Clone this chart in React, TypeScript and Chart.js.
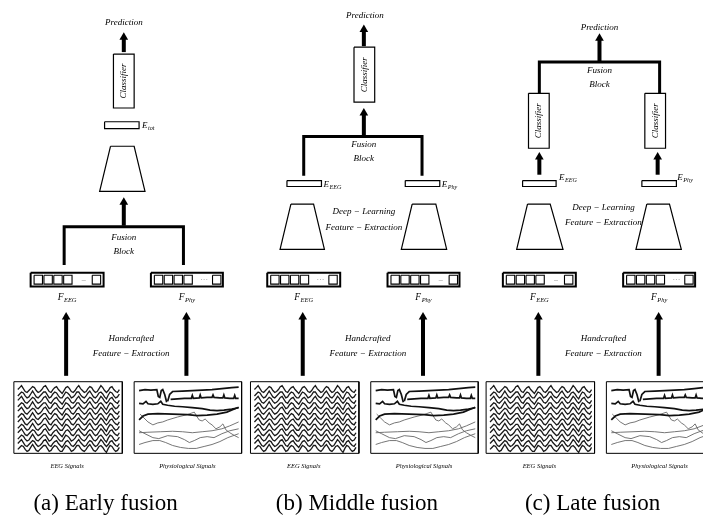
import React, { useEffect, useRef } from "react";
import { Chart, registerables } from "chart.js";
Chart.register(...registerables);

const W = 708;
const H = 527;

// ---------- panel captions ----------
const PANEL_OFFSETS = [0, 240, 479];
const PANEL_CAPTIONS = ["(a) Early fusion", "(b) Middle fusion", "(c) Late fusion"];
const CAPTION_X = [102, 357, 596];
const CAPTION_Y = 509;

// ---------- shared lower part (panel-relative) ----------
const SIGNAL_LABELS = ["EEG Signals", "Physiological Signals"];
const SIGNAL_LABEL_X = [63, 185];
const SIGNAL_BOXES = [
  [9, 384, 119, 457],
  [131, 384, 240, 457],
];
const FEATURE_LABELS = [["F", "EEG"], ["F", "Phy"]];
const FEATURE_VECTORS = [
  [26, 273, 100, 287],
  [148, 273, 221, 287],
];
const FEATURE_CELL_STARTS = [3.5, 13.5, 23.5, 33.5, 62.5];
const FEATURE_SEPARATORS = [["–", "···"], ["···", "–"], ["–", "···"]];
const LOWER_ARROW_X = [62, 184];
const LOWER_ARROW_FROM = 378;
const LOWER_ARROW_TIP = 313;
const HANDCRAFTED_TEXT = ["Handcrafted", "Feature − Extraction"];

// EEG traces (hand-read waveforms)
const EEG_WAVE_A = [0, -2, -4, -1, 2, 3, 1, -1, -3, -2, 1, 3, 2, 0, -3, -4, -1, 2, 3, 0, -2, -3, 0, 2, 4, 1, -2, -3, -1, 2, 3, 1, -2, -4, -1, 1, 3, 2, -1, -3, -2, 1, 3, 2, -1, -4, -2, 1, 3, 1, -2, -3, 0, 2, 3, 0];
const EEG_WAVE_B = [1, -1, -3, -2, 1, 3, 2, -1, -4, -1, 2, 3, 1, -1, -3, -3, 0, 3, 2, -1, -3, -2, 1, 3, 3, 0, -3, -2, 0, 3, 2, 0, -3, -3, 0, 2, 3, 1, -2, -4, -1, 2, 3, 1, -2, -3, -1, 2, 4, 0, -3, -2, 1, 3, 2, -1];
const EEG_CHANNEL_Y = [392, 397.5, 403, 408.5, 414, 419.5, 425, 430.5, 436, 441.5, 447, 452];
const EEG_X_RANGE = [13, 116];

// Physiological traces (hand-read)
const PHYS_TRACES: { pts: number[][]; dark: boolean }[] = [
  { dark: true, pts: [[136, 393], [142, 392], [148, 392.5], [154, 392], [155.5, 399], [157, 400], [158.5, 393], [160, 392], [162, 397], [164, 405]] },
  { dark: true, pts: [[165, 404], [167, 397], [170, 394], [180, 393.5], [190, 393], [200, 392.5], [210, 392], [220, 391], [230, 390], [237, 389.5]] },
  { dark: true, pts: [[168, 402], [175, 401.5], [182, 401], [189, 401], [190, 398], [191, 401], [197, 400.5], [198, 397.5], [199, 400.5], [205, 400], [210, 400], [211, 397.5], [212, 400], [218, 400.5], [221, 400.5], [222, 397.5], [223, 400.5], [228, 401], [232, 401], [233, 398], [234, 401], [237, 401]] },
  { dark: true, pts: [[136, 406], [140, 406.5], [143, 404], [145, 406.5], [150, 407], [155, 406.5], [158, 404], [160, 407], [165, 408], [172, 409], [180, 409.5], [190, 410.5], [200, 411.5], [208, 413], [215, 413.5], [222, 413], [230, 412], [237, 410.5]] },
  { dark: true, pts: [[136, 423], [140, 419], [145, 417], [155, 416.5], [170, 417], [185, 417.5], [195, 418.5], [205, 418], [215, 417], [225, 415], [232, 412], [237, 410]] },
  { dark: false, pts: [[137, 417], [141, 421], [145, 425], [150, 428], [155, 426], [160, 425], [165, 423], [175, 420], [185, 417.5], [192, 415], [195, 420], [197, 423], [200, 424], [203, 422], [207, 426], [210, 428], [214, 432], [218, 430], [221, 427], [224, 433], [228, 436], [233, 439], [237, 441]] },
  { dark: false, pts: [[136, 436], [145, 435.5], [158, 435], [170, 434.5], [180, 435], [190, 436], [200, 435], [210, 434], [220, 432], [228, 429], [237, 425]] },
  { dark: false, pts: [[136, 434], [142, 437], [150, 441], [156, 442], [165, 439], [175, 440], [182, 443], [187, 446], [192, 444], [198, 441], [205, 440], [212, 441], [220, 437], [228, 434], [237, 432]] },
  { dark: false, pts: [[136, 448], [142, 446], [150, 444], [157, 444], [163, 446], [170, 449], [178, 451], [186, 452], [194, 452], [202, 450], [210, 448], [218, 445], [226, 441], [237, 437]] },
];

// ---------- upper part, per panel (panel-relative) ----------
type Top = {
  fusion: { y: number; x0: number; x1: number; yEnd: number; tx: number; ty: number[] };
  arrows: number[][]; // [x, from, tip]
  classifiers: number[][];
  embeds: { box: number[]; label: string[]; lx: number; ly: number }[];
  traps: number[][]; // [topL, topR, topY, botL, botR, botY]
  deepText: number[] | null; // [x, y1, y2]
  prediction: number[];
};
const TOPS: Top[] = [
  {
    fusion: { y: 226, x0: 60, x1: 181, yEnd: 265, tx: 120.5, ty: [237, 251] },
    arrows: [[120.5, 225, 196], [120.5, 48, 28]],
    classifiers: [[110, 50, 131, 105]],
    embeds: [{ box: [101, 119, 136, 126], label: ["E", "tot"], lx: 139, ly: 123 }],
    traps: [[107, 131, 144, 96, 142, 190]],
    deepText: null,
    prediction: [120.5, 18],
  },
  {
    fusion: { y: 134, x0: 63, x1: 183, yEnd: 174, tx: 124, ty: [142, 157] },
    arrows: [[124, 133, 105], [124, 42, 20]],
    classifiers: [[114, 43, 135, 99]],
    embeds: [
      { box: [46, 179, 81, 185], label: ["E", "EEG"], lx: 83, ly: 183 },
      { box: [166, 179, 201, 185], label: ["E", "Phy"], lx: 203, ly: 183 },
    ],
    traps: [[50, 73, 203, 39, 84, 249], [173, 197, 203, 162, 208, 249]],
    deepText: [124, 211, 227],
    prediction: [125, 11],
  },
  {
    fusion: { y: 58, x0: 63, x1: 185, yEnd: 90, tx: 124, ty: [67, 81] },
    arrows: [[124, 58, 29], [63, 173, 150], [183, 173, 150]],
    classifiers: [[52, 90, 73, 146], [170, 90, 191, 146]],
    embeds: [
      { box: [46, 179, 80, 185], label: ["E", "EEG"], lx: 83, ly: 176 },
      { box: [167, 179, 202, 185], label: ["E", "Phy"], lx: 203, ly: 176 },
    ],
    traps: [[51, 74, 203, 40, 87, 249], [172, 195, 203, 161, 207, 249]],
    deepText: [128, 207, 222],
    prediction: [124, 23],
  },
];

const MATH_FONT = "'Liberation Serif', 'DejaVu Serif', serif";

// ---------- helpers ----------
function line(points: number[][], color = "#000", width = 1) {
  return {
    type: "line" as const,
    data: points.map(([x, y]) => ({ x, y })),
    borderColor: color,
    borderWidth: width,
    pointRadius: 0,
    showLine: true,
    fill: false,
    tension: 0,
    borderJoinStyle: "miter" as const,
  };
}
function rect(b: number[], ox: number, color = "#000", width = 1) {
  const [x0, y0, x1, y1] = b;
  return line([[x0 + ox, y0], [x1 + ox, y0], [x1 + ox, y1], [x0 + ox, y1], [x0 + ox, y0]], color, width);
}
function arrowSets(x: number, from: number, tip: number) {
  const r = 5;
  return [
    line([[x, from], [x, tip + r]], "#000", 4),
    {
      type: "scatter" as const,
      data: [{ x, y: tip + r }],
      pointStyle: "triangle",
      pointRadius: r,
      backgroundColor: "#000",
      borderColor: "#000",
      borderWidth: 0,
      showLine: false,
    },
  ];
}

type Label = { x: number; y: number; text: string; sub?: string; size: number; italic: boolean; align?: "center" | "left"; rotate?: boolean; color?: string };

function buildScene() {
  const datasets: any[] = [];
  const labels: Label[] = [];
  PANEL_OFFSETS.forEach((ox, p) => {
    // signal boxes
    SIGNAL_BOXES.forEach((b, i) => {
      datasets.push(rect(b, ox, "#000", 1));
      labels.push({ x: SIGNAL_LABEL_X[i] + ox, y: 470, text: SIGNAL_LABELS[i], size: 6.5, italic: true });
    });
    // EEG traces
    EEG_CHANNEL_Y.forEach((cy, c) => {
      const wave = c % 2 === 0 ? EEG_WAVE_A : EEG_WAVE_B;
      const step = (EEG_X_RANGE[1] - EEG_X_RANGE[0]) / (wave.length - 1);
      datasets.push(line(wave.map((v, i) => [EEG_X_RANGE[0] + i * step + ox, cy + v]), "#1a1a1a", 1.3));
    });
    // physiological traces
    PHYS_TRACES.forEach((t) => {
      datasets.push(line(t.pts.map(([x, y]) => [x + ox, y]), t.dark ? "#111" : "#666", t.dark ? 1.7 : 0.9));
    });
    // lower arrows
    LOWER_ARROW_X.forEach((x) => datasets.push(...arrowSets(x + ox, LOWER_ARROW_FROM, LOWER_ARROW_TIP)));
    labels.push({ x: 128 + ox, y: 340, text: HANDCRAFTED_TEXT[0], size: 9, italic: true });
    labels.push({ x: 128 + ox, y: 355, text: HANDCRAFTED_TEXT[1], size: 9, italic: true });
    // feature vectors
    FEATURE_VECTORS.forEach((b, i) => {
      datasets.push(rect(b, ox, "#000", 2));
      FEATURE_CELL_STARTS.forEach((s) => {
        datasets.push(rect([b[0] + s, b[1] + 2.5, b[0] + s + 8.5, b[3] - 2.5], ox, "#000", 1.1));
      });
      labels.push({ x: b[0] + 54 + ox, y: 280, text: FEATURE_SEPARATORS[p][i], size: 8, italic: false, color: "#888" });
      labels.push({ x: (b[0] + b[2]) / 2 + ox, y: 298, text: FEATURE_LABELS[i][0], sub: FEATURE_LABELS[i][1], size: 9.5, italic: true });
    });
    // top part
    const t = TOPS[p];
    const f = t.fusion;
    datasets.push(line([[f.x0 + ox, f.yEnd], [f.x0 + ox, f.y], [f.x1 + ox, f.y], [f.x1 + ox, f.yEnd]], "#000", 3));
    labels.push({ x: f.tx + ox, y: f.ty[0], text: "Fusion", size: 9, italic: true });
    labels.push({ x: f.tx + ox, y: f.ty[1], text: "Block", size: 9, italic: true });
    t.arrows.forEach(([x, from, tip]) => datasets.push(...arrowSets(x + ox, from, tip)));
    t.classifiers.forEach((b) => {
      datasets.push(rect(b, ox, "#000", 1.2));
      labels.push({ x: (b[0] + b[2]) / 2 + ox, y: (b[1] + b[3]) / 2, text: "Classifier", size: 9, italic: true, rotate: true });
    });
    t.embeds.forEach((e) => {
      datasets.push(rect(e.box, ox, "#000", 1.2));
      labels.push({ x: e.lx + ox, y: e.ly, text: e.label[0], sub: e.label[1], size: 9, italic: true, align: "left" });
    });
    t.traps.forEach(([tl, tr, ty, bl, br, by]) => {
      datasets.push(line([[tl + ox, ty], [tr + ox, ty], [br + ox, by], [bl + ox, by], [tl + ox, ty]], "#000", 1.2));
    });
    if (t.deepText) {
      labels.push({ x: t.deepText[0] + ox, y: t.deepText[1], text: "Deep − Learning", size: 9, italic: true });
      labels.push({ x: t.deepText[0] + ox, y: t.deepText[2], text: "Feature − Extraction", size: 9, italic: true });
    }
    labels.push({ x: t.prediction[0] + ox, y: t.prediction[1], text: "Prediction", size: 9, italic: true });
    labels.push({ x: CAPTION_X[p], y: CAPTION_Y, text: PANEL_CAPTIONS[p], size: 23, italic: false });
  });
  return { datasets, labels };
}

const labelPlugin = (labels: Label[]) => ({
  id: "diagramLabels",
  afterDatasetsDraw(chart: any) {
    const ctx: CanvasRenderingContext2D = chart.ctx;
    const xs = chart.scales.x;
    const ys = chart.scales.y;
    ctx.save();
    labels.forEach((l) => {
      const px = xs.getPixelForValue(l.x);
      const py = ys.getPixelForValue(l.y);
      ctx.fillStyle = l.color || "#000";
      ctx.textBaseline = "middle";
      const mainFont = `${l.italic ? "italic " : ""}${l.size}px ${MATH_FONT}`;
      const subSize = l.size * 0.68;
      const subFont = `${l.italic ? "italic " : ""}${subSize}px ${MATH_FONT}`;
      ctx.font = mainFont;
      const wMain = ctx.measureText(l.text).width;
      let wSub = 0;
      if (l.sub) {
        ctx.font = subFont;
        wSub = ctx.measureText(l.sub).width;
      }
      const total = wMain + wSub + (l.sub ? 0.5 : 0);
      ctx.save();
      ctx.translate(px, py);
      if (l.rotate) ctx.rotate(-Math.PI / 2);
      const startX = l.align === "left" ? 0 : -total / 2;
      ctx.textAlign = "left";
      ctx.font = mainFont;
      ctx.fillText(l.text, startX, 0);
      if (l.sub) {
        ctx.font = subFont;
        ctx.fillText(l.sub, startX + wMain + 0.5, l.size * 0.3);
      }
      ctx.restore();
    });
    ctx.restore();
  },
});

export default function App() {
  const ref = useRef<HTMLCanvasElement | null>(null);
  useEffect(() => {
    if (!ref.current) return;
    const { datasets, labels } = buildScene();
    const chart = new Chart(ref.current, {
      type: "scatter",
      data: { datasets },
      options: {
        animation: false,
        responsive: false,
        maintainAspectRatio: false,
        devicePixelRatio: 1,
        layout: { padding: 0 },
        events: [],
        scales: {
          x: { type: "linear", min: 0, max: W, display: false },
          y: { type: "linear", min: 0, max: H, reverse: true, display: false },
        },
        plugins: { legend: { display: false }, tooltip: { enabled: false } },
      },
      plugins: [labelPlugin(labels)],
    } as any);
    return () => chart.destroy();
  }, []);
  return (
    <div style={{ position: "fixed", left: 0, top: 0, width: W, height: H, background: "#fff" }}>
      <canvas ref={ref} width={W} height={H} style={{ display: "block" }} />
    </div>
  );
}
